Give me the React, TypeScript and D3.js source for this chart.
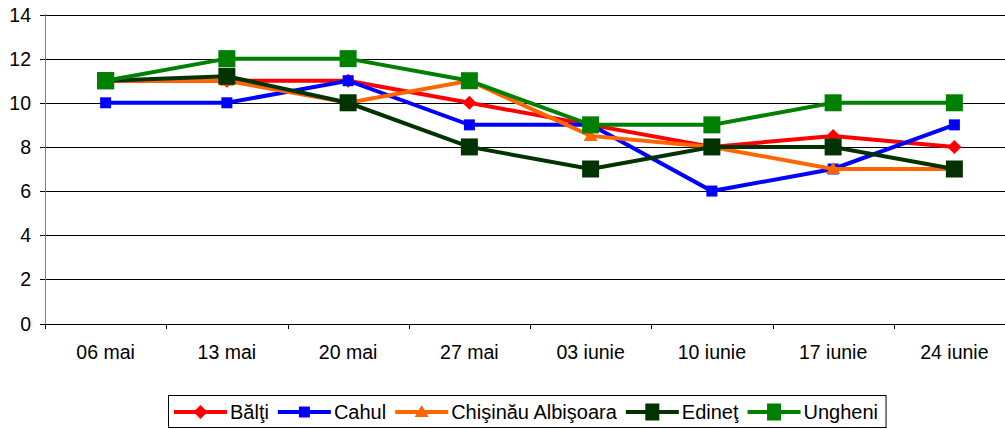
import React, { useEffect, useRef } from 'react';
import * as d3 from 'd3';

const categories = ['06 mai', '13 mai', '20 mai', '27 mai', '03 iunie', '10 iunie', '17 iunie', '24 iunie'];
const yTicks = [0, 2, 4, 6, 8, 10, 12, 14];

const balti = [11, 11, 11, 10, 9, 8, 8.5, 8];
const cahul = [10, 10, 11, 9, 9, 6, 7, 9];
const chisinau = [11, 11, 10, 11, 8.5, 8, 7, 7];
const edinet = [11, 11.2, 10, 8, 7, 8, 8, 7];
const ungheni = [11, 12, 12, 11, 9, 9, 10, 10];

const seriesNames = ['Bălţi', 'Cahul', 'Chişinău Albişoara', 'Edineţ', 'Ungheni'];
const seriesValues = [balti, cahul, chisinau, edinet, ungheni];
const seriesColors = ['#ff0000', '#0000ff', '#ff6600', '#003300', '#008000'];
const seriesMarkers = ['diamond', 'square', 'triangle', 'bigsquare', 'bigsquare'];

const FONT = '"Liberation Sans", Arial, sans-serif';

function markerPath(kind: string) {
  if (kind === 'diamond') return 'M0,-7L7,0L0,7L-7,0Z';
  if (kind === 'square') return 'M-5.5,-5.5H5.5V5.5H-5.5Z';
  if (kind === 'triangle') return 'M0,-7L7,5L-7,5Z';
  return 'M-8.5,-8.5H8.5V8.5H-8.5Z';
}

const App = () => {
  const svgRef = useRef<SVGSVGElement>(null);

  useEffect(() => {
    const width = 1005;
    const height = 429;
    const left = 45;
    const svg = d3.select(svgRef.current)
      .attr('width', width)
      .attr('height', height)
      .style('font-family', FONT);
    svg.selectAll('*').remove();

    const x = d3.scaleBand().domain(categories).range([left, left + 8 * 121.25]);
    const y = d3.scaleLinear().domain([0, 14]).range([323.5, 14.5]);

    // gridlines
    svg.append('g')
      .selectAll('line')
      .data(yTicks)
      .enter().append('line')
      .attr('x1', left).attr('x2', width)
      .attr('y1', d => Math.round(y(d)) + 0.5).attr('y2', d => Math.round(y(d)) + 0.5)
      .attr('stroke', '#000').attr('stroke-width', 1);

    // y ticks + labels
    const yg = svg.append('g');
    yg.selectAll('line')
      .data(yTicks)
      .enter().append('line')
      .attr('x1', left - 5).attr('x2', left)
      .attr('y1', d => Math.round(y(d)) + 0.5).attr('y2', d => Math.round(y(d)) + 0.5)
      .attr('stroke', '#000');
    yg.selectAll('text')
      .data(yTicks)
      .enter().append('text')
      .attr('x', 31).attr('y', d => y(d) + 7)
      .attr('text-anchor', 'end')
      .attr('font-size', 19.5)
      .text(d => d);

    svg.append('line')
      .attr('x1', left + 0.5).attr('x2', left + 0.5)
      .attr('y1', 14).attr('y2', 329)
      .attr('stroke', '#808080');

    // x ticks + labels
    const xg = svg.append('g');
    xg.selectAll('line')
      .data(d3.range(categories.length + 1))
      .enter().append('line')
      .attr('x1', i => Math.round(left + i * x.step()) + 0.5)
      .attr('x2', i => Math.round(left + i * x.step()) + 0.5)
      .attr('y1', 324).attr('y2', 329)
      .attr('stroke', '#000');
    xg.selectAll('text')
      .data(categories)
      .enter().append('text')
      .attr('x', d => x(d)! + x.bandwidth() / 2)
      .attr('y', 359)
      .attr('text-anchor', 'middle')
      .attr('font-size', 19.5)
      .text(d => d);

    const line = d3.line<number>()
      .x((d, i) => x(categories[i])! + x.bandwidth() / 2)
      .y(d => y(d));

    seriesValues.forEach((vals, s) => {
      const g = svg.append('g');
      g.append('path')
        .attr('d', line(vals))
        .attr('fill', 'none')
        .attr('stroke', seriesColors[s])
        .attr('stroke-width', 4);
      g.selectAll('path.m')
        .data(vals)
        .enter().append('path')
        .attr('class', 'm')
        .attr('transform', (d, i) => `translate(${x(categories[i])! + x.bandwidth() / 2},${y(d)})`)
        .attr('d', markerPath(seriesMarkers[s]))
        .attr('fill', seriesColors[s]);
    });

    // legend
    const lg = svg.append('g');
    const box = lg.append('rect')
      .attr('x', 168.5).attr('y', 395.5).attr('height', 32)
      .attr('fill', '#fff').attr('stroke', '#000');
    let cx = 174;
    seriesNames.forEach((name, s) => {
      lg.append('line')
        .attr('x1', cx).attr('x2', cx + 53)
        .attr('y1', 412).attr('y2', 412)
        .attr('stroke', seriesColors[s]).attr('stroke-width', 4);
      const mk = seriesMarkers[s] === 'bigsquare' ? 'M-7,-8.5H7V8.5H-7Z' : markerPath(seriesMarkers[s]);
      lg.append('path')
        .attr('transform', `translate(${cx + 26.5},412)`)
        .attr('d', mk)
        .attr('fill', seriesColors[s]);
      const t = lg.append('text')
        .attr('x', cx + 56).attr('y', 419)
        .attr('font-size', 20)
        .text(name);
      const w = (t.node() as SVGTextElement).getComputedTextLength();
      cx = cx + 56 + w + 9;
    });
    box.attr('width', cx - 168.5 - 1);
  }, []);

  return <svg ref={svgRef} style={{ display: 'block', position: 'absolute', left: 0, top: 0 }}></svg>;
};

export default App;
